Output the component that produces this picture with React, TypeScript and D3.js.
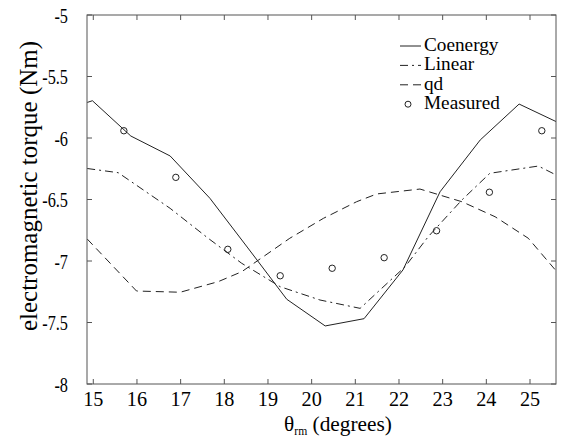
import React from 'react'
import * as d3 from 'd3'

// rotor angle (degrees) and torque (Nm)
const coenergyX = [14.86, 14.98, 15.86, 16.76, 17.67, 18.54, 19.43, 20.31, 21.2, 22.09, 22.94, 23.86, 24.75, 25.6]
const coenergyY = [-5.711, -5.697, -5.984, -6.146, -6.49, -6.894, -7.311, -7.528, -7.469, -7.073, -6.437, -6.016, -5.724, -5.867]

const linearX = [14.86, 15.57, 16.76, 17.63, 18.4, 19.28, 20.19, 21.11, 22.14, 22.67, 23.44, 24.08, 25.19, 25.6]
const linearY = [-6.248, -6.282, -6.572, -6.815, -7.019, -7.209, -7.317, -7.385, -7.046, -6.802, -6.504, -6.287, -6.228, -6.301]

const qdX = [14.86, 15.99, 16.99, 17.86, 18.4, 19.5, 20.27, 21.03, 21.49, 22.48, 23.44, 24.2, 24.96, 25.6]
const qdY = [-6.821, -7.244, -7.254, -7.168, -7.087, -6.815, -6.653, -6.518, -6.455, -6.415, -6.518, -6.64, -6.815, -7.081]

const measuredX = [15.7, 16.89, 18.08, 19.28, 20.47, 21.66, 22.86, 24.07, 25.27]
const measuredY = [-5.941, -6.32, -6.905, -7.12, -7.059, -6.973, -6.754, -6.441, -5.941]

const xTicks = [15, 16, 17, 18, 19, 20, 21, 22, 23, 24, 25]
const yTicks = [-8, -7.5, -7, -6.5, -6, -5.5, -5]
const legendNames = ['Coenergy', 'Linear', 'qd', 'Measured']

const width = 561
const height = 439
const left = 87
const right = 556
const top = 15
const bottom = 384
const font = "'Liberation Serif'"
const ink = '#222'

const App = () => {
  const x = d3.scaleLinear().domain([14.856, 25.595]).range([left, right])
  const y = d3.scaleLinear().domain([-8, -5]).range([bottom, top])

  const line = d3.line<[number, number]>().x(d => x(d[0])).y(d => y(d[1]))
  const pts = (xs: number[], ys: number[]) => xs.map((v, i) => [v, ys[i]] as [number, number])

  const dashes = [undefined, '8,4,2,4', '8,5']

  return (
    <svg width={width} height={height} style={{ position: 'absolute', left: 0, top: 0, background: '#fff' }}>
      <defs>
        <clipPath id="plot">
          <rect x={left} y={top} width={right - left} height={bottom - top} />
        </clipPath>
      </defs>

      <g clipPath="url(#plot)" fill="none" stroke={ink} strokeWidth={1}>
        <path d={line(pts(coenergyX, coenergyY)) || ''} />
        <path d={line(pts(linearX, linearY)) || ''} strokeDasharray={dashes[1]} />
        <path d={line(pts(qdX, qdY)) || ''} strokeDasharray={dashes[2]} />
        {measuredX.map((v, i) => (
          <circle key={i} cx={x(v)} cy={y(measuredY[i])} r={3.2} />
        ))}
      </g>

      {/* frame and ticks */}
      <rect x={left} y={top} width={right - left} height={bottom - top} fill="none" stroke="#555" strokeWidth={1} />
      <g stroke="#555" strokeWidth={1}>
        {xTicks.map(t => (
          <g key={t}>
            <line x1={x(t)} x2={x(t)} y1={bottom} y2={bottom - 5} />
            <line x1={x(t)} x2={x(t)} y1={top} y2={top + 5} />
          </g>
        ))}
        {yTicks.map(t => (
          <g key={t}>
            <line x1={left} x2={left + 5} y1={y(t)} y2={y(t)} />
            <line x1={right} x2={right - 5} y1={y(t)} y2={y(t)} />
          </g>
        ))}
      </g>

      <g style={{ fontFamily: font }} fill="#000" fontSize={22}>
        {xTicks.map(t => (
          <text key={t} transform={`translate(${x(t)},406) scale(0.92,1)`} textAnchor="middle">
            {t}
          </text>
        ))}
        {yTicks.map(t => (
          <text key={t} transform={`translate(68,${y(t) + 7.5}) scale(0.74,1)`} textAnchor="end">
            {t}
          </text>
        ))}
      </g>

      <text
        style={{ fontFamily: font }}
        fontSize={25}
        textAnchor="middle"
        transform={`translate(37,186) rotate(-90)`}
      >
        electromagnetic torque (Nm)
      </text>
      <text style={{ fontFamily: font }} fontSize={22} textAnchor="middle" transform="translate(338,431) scale(0.97,1)">
        θ<tspan fontSize={12} dy={4}>rm</tspan>
        <tspan dy={-4}> (degrees)</tspan>
      </text>

      {/* legend */}
      <g style={{ fontFamily: font }} fontSize={17.5}>
        {legendNames.map((name, i) => {
          const by = 51 + i * 19.4
          return (
            <g key={name}>
              {i < 3 ? (
                <line x1={400} x2={421} y1={by - 5} y2={by - 5} stroke={ink} strokeDasharray={dashes[i]} />
              ) : (
                <circle cx={408} cy={by - 5} r={3} fill="none" stroke={ink} />
              )}
              <text transform={`translate(424,${by}) scale(1.1,1.12)`}>{name}</text>
            </g>
          )
        })}
      </g>
    </svg>
  )
}

export default App
